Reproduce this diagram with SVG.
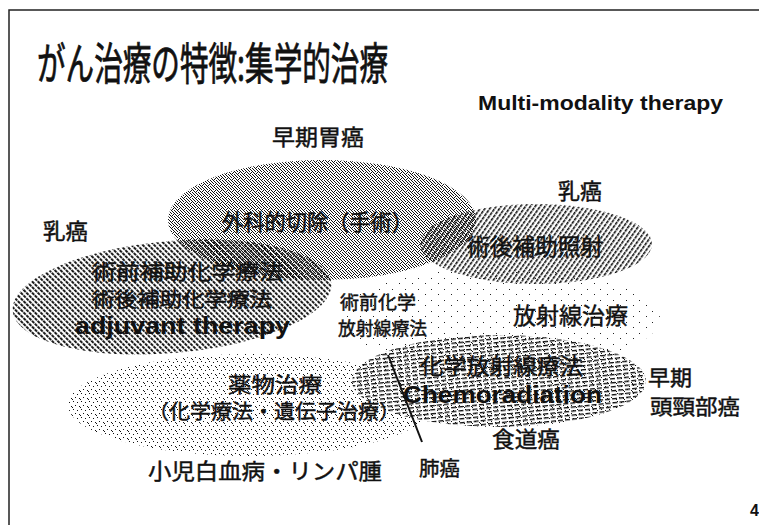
<svg xmlns="http://www.w3.org/2000/svg" width="759" height="525" viewBox="0 0 759 525">
<style>
.jp{font-family:"Noto Sans CJK JP","Noto Sans",sans-serif;fill:#111;stroke:#111;stroke-width:0.45;}
.ttl{font-family:"Noto Sans CJK JP","Noto Sans",sans-serif;fill:#111;stroke:#111;stroke-width:0.8;}
.en{font-family:"Liberation Sans",Arial,sans-serif;font-weight:bold;fill:#111;}
.frame{fill:none;stroke:#222;stroke-width:1.5;}
.conn{stroke:#111;stroke-width:2;fill:none;}
</style>
<defs>
<pattern id="dotsDense" width="6" height="6" patternUnits="userSpaceOnUse">
<path fill="#111" d="M0 0h1v1H0zM3 0h1v1H3zM1 1h1v1H1zM4 1h1v1H4zM5 2h1v1H5zM2 2h1v1H2zM0 3h1v1H0zM3 3h1v1H3zM1 4h1v1H1zM5 4h1v1H5zM4 5h1v1H4zM2 5h1v1H2z"/>
</pattern>
<pattern id="dotsLight" width="8" height="8" patternUnits="userSpaceOnUse">
<path fill="#111" d="M1 1h1v1H1zM5 2h1v1H5zM3 5h1v1H3zM7 6h1v1H7zM0 7h1v1H0z"/>
</pattern>
<pattern id="dotsFaint" width="13" height="11" patternUnits="userSpaceOnUse">
<path fill="#222" d="M2 3h1v1H2zM9 8h1v1H9z"/>
</pattern>
<pattern id="hatchBack" width="4" height="4" patternUnits="userSpaceOnUse" patternTransform="rotate(-40)">
<rect width="1.9" height="3.2" fill="#111"/>
</pattern>
<pattern id="hatchFwd" width="4" height="4" patternUnits="userSpaceOnUse" patternTransform="rotate(35)">
<rect width="1.6" height="3.3" fill="#111"/>
</pattern>
<pattern id="hatchHor" width="7" height="4" patternUnits="userSpaceOnUse" patternTransform="rotate(-6)">
<rect width="5" height="1.4" fill="#111"/>
</pattern>
</defs>

<path class="frame" d="M9 525V10H759"/>

<g id="title">
<text class="ttl" x="37" y="80" font-size="44" textLength="351" lengthAdjust="spacingAndGlyphs">がん治療の特徴:集学的治療</text>
<text class="en" x="478" y="110" font-size="21" textLength="245" lengthAdjust="spacingAndGlyphs">Multi-modality therapy</text>
</g>

<g id="node-radiation">
<ellipse cx="500" cy="318" rx="160" ry="50" fill="url(#dotsFaint)"/>
<text class="jp" x="513" y="324" font-size="23" textLength="115" lengthAdjust="spacingAndGlyphs">放射線治療</text>
</g>

<g id="node-drug">
<ellipse cx="250" cy="405" rx="182" ry="51" fill="url(#dotsLight)"/>
<text class="jp" x="228" y="392" font-size="21" textLength="94" lengthAdjust="spacingAndGlyphs">薬物治療</text>
<text class="jp" x="148" y="419" font-size="20" textLength="252" lengthAdjust="spacingAndGlyphs">（化学療法・遺伝子治療）</text>
<text class="jp" x="148" y="479" font-size="22" textLength="234" lengthAdjust="spacingAndGlyphs">小児白血病・リンパ腫</text>
</g>

<g id="node-chemoradiation">
<ellipse cx="499" cy="381" rx="147" ry="46" fill="url(#hatchHor)"/>
<ellipse cx="499" cy="381" rx="147" ry="46" fill="url(#dotsLight)"/>
<text class="jp" x="420" y="374" font-size="22" textLength="163" lengthAdjust="spacingAndGlyphs">化学放射線療法</text>
<text class="en" x="403" y="403" font-size="24" textLength="199" lengthAdjust="spacingAndGlyphs">Chemoradiation</text>
<text class="jp" x="648" y="385" font-size="21" textLength="44" lengthAdjust="spacingAndGlyphs">早期</text>
<text class="jp" x="650" y="414" font-size="21" textLength="90" lengthAdjust="spacingAndGlyphs">頭頸部癌</text>
<text class="jp" x="492" y="447" font-size="22" textLength="68" lengthAdjust="spacingAndGlyphs">食道癌</text>
<text class="jp" x="419" y="476" font-size="20" textLength="41" lengthAdjust="spacingAndGlyphs">肺癌</text>
</g>

<g id="node-surgery">
<ellipse cx="322" cy="220" rx="154" ry="60" fill="url(#dotsDense)"/>
<text class="jp" x="272" y="145" font-size="22" textLength="92" lengthAdjust="spacingAndGlyphs">早期胃癌</text>
<text class="jp" x="222" y="230" font-size="22" textLength="191" lengthAdjust="spacingAndGlyphs">外科的切除（手術）</text>
</g>

<g id="node-adjuvant">
<ellipse cx="172" cy="297" rx="160" ry="56" transform="rotate(-5 172 297)" fill="url(#hatchBack)"/>
<text class="jp" x="43" y="239" font-size="22" textLength="45" lengthAdjust="spacingAndGlyphs">乳癌</text>
<text class="jp" x="92" y="279" font-size="21" textLength="191" lengthAdjust="spacingAndGlyphs">術前補助化学療法</text>
<text class="jp" x="92" y="307" font-size="20" textLength="180" lengthAdjust="spacingAndGlyphs">術後補助化学療法</text>
<text class="en" x="75" y="334" font-size="24" textLength="215" lengthAdjust="spacingAndGlyphs">adjuvant therapy</text>
</g>

<g id="node-postop-radiation">
<ellipse cx="536" cy="244" rx="116" ry="40" fill="url(#hatchFwd)"/>
<text class="jp" x="558" y="199" font-size="22" textLength="44" lengthAdjust="spacingAndGlyphs">乳癌</text>
<text class="jp" x="467" y="255" font-size="23" textLength="136" lengthAdjust="spacingAndGlyphs">術後補助照射</text>
</g>

<g id="node-preop-chemoradiation">
<text class="jp" x="340" y="309" font-size="18" textLength="76" lengthAdjust="spacingAndGlyphs">術前化学</text>
<text class="jp" x="338" y="335" font-size="18" textLength="89" lengthAdjust="spacingAndGlyphs">放射線療法</text>
</g>

<g id="connectors">
<line class="conn" x1="388" y1="355" x2="422" y2="442"/>
</g>

<text class="en" x="750" y="516" font-size="16">4</text>
</svg>
